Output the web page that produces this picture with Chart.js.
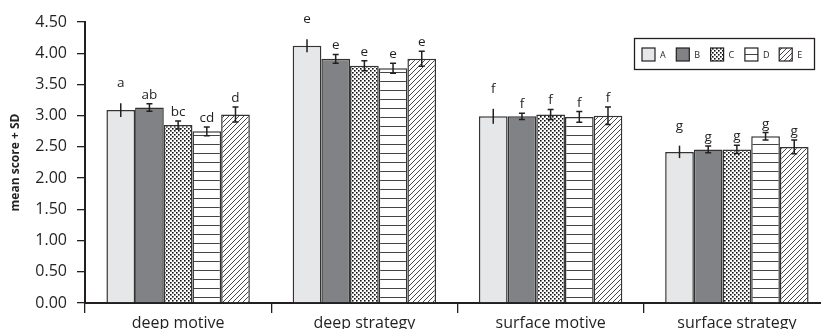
<!DOCTYPE html>
<html>
<head>
<meta charset="utf-8">
<script src="https://cdn.jsdelivr.net/npm/chart.js@4/dist/chart.umd.min.js"></script>
<style>
    html, body { margin: 0; padding: 0; background: #fff; overflow: hidden; }
    #wrap { width: 840px; height: 329px; }
</style>
</head>
<body>
<div id="wrap"><canvas id="chart" width="840" height="329"></canvas></div>
<script>
// Data
const categories = ['deep motive', 'deep strategy', 'surface motive', 'surface strategy'];
const groupNames = ['A', 'B', 'C', 'D', 'E'];

const meanA = [3.09, 4.12, 2.99, 2.42];
const meanB = [3.13, 3.91, 2.99, 2.46];
const meanC = [2.85, 3.80, 3.02, 2.46];
const meanD = [2.75, 3.76, 2.98, 2.67];
const meanE = [3.02, 3.91, 3.00, 2.50];

const sdA = [0.11, 0.105, 0.12, 0.10];
const sdB = [0.06, 0.07, 0.05, 0.055];
const sdC = [0.065, 0.08, 0.08, 0.065];
const sdD = [0.07, 0.08, 0.085, 0.06];
const sdE = [0.12, 0.12, 0.14, 0.11];

const lettersA = ['a', 'e', 'f', 'g'];
const lettersB = ['ab', 'e', 'f', 'g'];
const lettersC = ['bc', 'e', 'f', 'g'];
const lettersD = ['cd', 'e', 'f', 'g'];
const lettersE = ['d', 'e', 'f', 'g'];

const yTicks = [0, 0.5, 1, 1.5, 2, 2.5, 3, 3.5, 4, 4.5];

const ink = '#231f20';
const font = "'Open Sans', sans-serif";

// fill patterns
function makePattern(w, h, draw) {
    const c = document.createElement('canvas');
    c.width = w;
    c.height = h;
    const g = c.getContext('2d');
    g.fillStyle = '#fff';
    g.fillRect(0, 0, w, h);
    draw(g);
    return document.getElementById('chart').getContext('2d').createPattern(c, 'repeat');
}

const dotFill = makePattern(4, 4, g => {
    g.fillStyle = '#111';
    g.fillRect(0, 0, 1.6, 1.6);
    g.fillRect(2, 2, 1.6, 1.6);
});

const lineFill = makePattern(9, 9, g => {
    g.fillStyle = '#444';
    g.fillRect(0, 0, 9, 1);
});

const hatchFill = makePattern(5, 5, g => {
    g.strokeStyle = '#333';
    g.lineWidth = 0.9;
    g.beginPath();
    g.moveTo(-1, 6); g.lineTo(6, -1);
    g.moveTo(-1, 1); g.lineTo(1, -1);
    g.moveTo(4, 6); g.lineTo(6, 4);
    g.stroke();
});

function series(label, data, sd, letters, fill, opts = {}) {
    return {
        label: label,
        data: data,
        sd: sd,
        letters: letters,
        backgroundColor: fill,
        borderColor: '#333',
        borderWidth: 1.5,
        errorCaps: opts.caps !== false,
        letterGap: opts.gap || 5
    };
}

// error bars + letters above them
const errorBars = {
    id: 'errorBars',
    afterDatasetsDraw(chart) {
        const ctx = chart.ctx;
        const y = chart.scales.y;
        chart.data.datasets.forEach((ds, i) => {
            const meta = chart.getDatasetMeta(i);
            meta.data.forEach((bar, j) => {
                const v = ds.data[j];
                const top = y.getPixelForValue(v + ds.sd[j]);
                const bot = y.getPixelForValue(v - ds.sd[j]);
                ctx.save();
                ctx.strokeStyle = ink;
                ctx.lineWidth = 1.5;
                ctx.beginPath();
                ctx.moveTo(bar.x, top);
                ctx.lineTo(bar.x, bot);
                if (ds.errorCaps) {
                    ctx.moveTo(bar.x - 3, top);
                    ctx.lineTo(bar.x + 3, top);
                    ctx.moveTo(bar.x - 3, bot);
                    ctx.lineTo(bar.x + 3, bot);
                }
                ctx.stroke();
                ctx.fillStyle = ink;
                ctx.font = '13.5px ' + font;
                ctx.textAlign = 'center';
                ctx.textBaseline = 'alphabetic';
                ctx.fillText(ds.letters[j], bar.x, top - ds.letterGap);
                ctx.restore();
            });
        });
    }
};

// boxed legend in the upper right
const boxLegend = {
    id: 'boxLegend',
    afterDraw(chart) {
        const ctx = chart.ctx;
        ctx.save();
        ctx.strokeStyle = ink;
        ctx.lineWidth = 1.3;
        ctx.strokeRect(634.5, 38.5, 180, 31);
        chart.data.datasets.forEach((ds, i) => {
            const x = 642 + i * 34.3;
            ctx.fillStyle = ds.backgroundColor;
            ctx.fillRect(x, 48, 13, 13);
            ctx.strokeStyle = ink;
            ctx.lineWidth = 1.2;
            ctx.strokeRect(x, 48, 13, 13);
            ctx.fillStyle = ink;
            ctx.font = '9px ' + font;
            ctx.textAlign = 'left';
            ctx.textBaseline = 'middle';
            ctx.fillText(ds.label, x + 18, 55);
        });
        ctx.restore();
    }
};

new Chart(document.getElementById('chart'), {
    type: 'bar',
    data: {
        labels: categories,
        datasets: [
            series(groupNames[0], meanA, sdA, lettersA, '#e6e7e8', { caps: false, gap: 16 }),
            series(groupNames[1], meanB, sdB, lettersB, '#808285'),
            series(groupNames[2], meanC, sdC, lettersC, dotFill),
            series(groupNames[3], meanD, sdD, lettersD, lineFill),
            series(groupNames[4], meanE, sdE, lettersE, hatchFill)
        ]
    },
    options: {
        responsive: false,
        animation: false,
        events: [],
        layout: { padding: { top: 22, right: 10, left: 0, bottom: 0 } },
        datasets: {
            bar: { categoryPercentage: 0.77, barPercentage: 1 }
        },
        plugins: {
            legend: { display: false },
            tooltip: { enabled: false }
        },
        scales: {
            x: {
                offset: true,
                afterFit: s => { s.height = 26; },
                border: { display: true, color: ink, width: 2 },
                grid: { offset: true, drawOnChartArea: false, drawTicks: true, tickLength: 10, color: ink, lineWidth: 1.3 },
                ticks: { color: ink, font: { family: font, size: 16 }, padding: 1 }
            },
            y: {
                min: 0,
                max: 4.5,
                afterFit: s => { s.width = 85; },
                afterBuildTicks: s => { s.ticks = yTicks.map(v => ({ value: v })); },
                border: { display: true, color: ink, width: 2 },
                grid: { drawOnChartArea: false, tickLength: 8, color: ink, lineWidth: 1.3 },
                ticks: {
                    color: ink,
                    padding: 10,
                    font: { family: font, size: 16 },
                    callback: v => v.toFixed(2)
                },
                title: {
                    display: true,
                    text: 'mean score + SD',
                    color: ink,
                    font: { family: font, size: 12, weight: 'bold' },
                    padding: { top: 8, bottom: 0 }
                }
            }
        }
    },
    plugins: [errorBars, boxLegend]
});
</script>
</body>
</html>
